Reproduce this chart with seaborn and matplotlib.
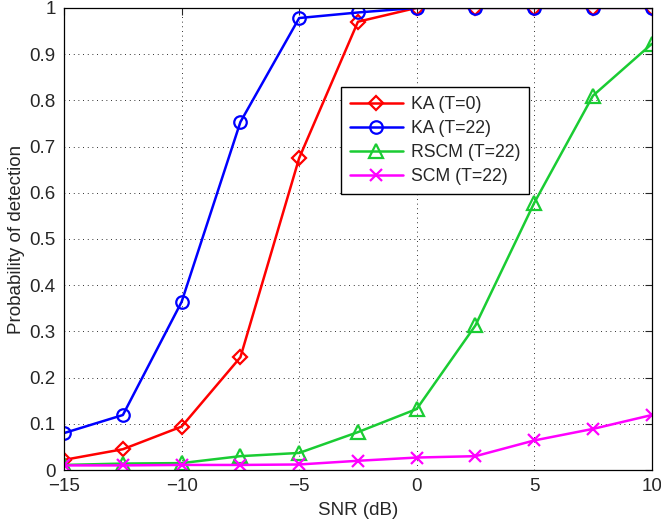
import matplotlib
matplotlib.use("Agg")
import matplotlib.pyplot as plt
import seaborn as sns
import pandas as pd

snr = [-15, -12.5, -10, -7.5, -5, -2.5, 0, 2.5, 5, 7.5, 10]
ka_t0 = [0.022, 0.045, 0.094, 0.244, 0.675, 0.970, 1.0, 1.0, 1.0, 1.0, 1.0]
ka_t22 = [0.080, 0.119, 0.364, 0.753, 0.978, 0.990, 1.0, 1.0, 1.0, 1.0, 1.0]
rscm_t22 = [0.011, 0.014, 0.015, 0.030, 0.037, 0.082, 0.132, 0.313, 0.578, 0.810, 0.922]
scm_t22 = [0.010, 0.010, 0.011, 0.011, 0.012, 0.020, 0.027, 0.030, 0.064, 0.089, 0.119]

series = [
    ("KA (T=0)", ka_t0, (1, 0, 0), "D", 7.5),
    ("KA (T=22)", ka_t22, (0, 0, 1), "o", 9),
    ("RSCM (T=22)", rscm_t22, (0.1, 0.8, 0.2), "^", 10),
    ("SCM (T=22)", scm_t22, (1, 0, 1), "x", 8),
]

sns.set_style("white")
plt.rcParams["font.family"] = ["Liberation Sans", "DejaVu Sans"]

fig = plt.figure(figsize=(6.61, 5.24), dpi=100)
ax = fig.add_axes([0.097, 0.103, 0.889, 0.882])

for name, vals, col, mk, ms in series:
    df = pd.DataFrame({"snr": snr, "pd": vals})
    sns.lineplot(data=df, x="snr", y="pd", ax=ax, color=col, label=name,
                 marker=mk, markersize=ms, linewidth=1.8)
for line in ax.lines:
    line.set_markerfacecolor("none")
    line.set_markeredgecolor(line.get_color())
    line.set_markeredgewidth(1.6)

ax.set_xlim(-15, 10)
ax.set_ylim(0, 1)
ax.set_xticks([-15, -10, -5, 0, 5, 10])
ax.set_xticklabels(["\u221215", "\u221210", "\u22125", "0", "5", "10"])
ax.set_yticks([i / 10 for i in range(11)])
ax.set_yticklabels(["0", "0.1", "0.2", "0.3", "0.4", "0.5", "0.6", "0.7", "0.8", "0.9", "1"])
ax.grid(True, linestyle=(0, (0.8, 4)), color="black", linewidth=0.7)
ax.tick_params(direction="in", top=True, right=True, labelsize=13.5, length=5, width=0.8)
ax.tick_params(axis="x", pad=6)
ax.tick_params(axis="y", pad=6)
for s in ax.spines.values():
    s.set_color("black")
    s.set_linewidth(0.9)
ax.set_xlabel("SNR (dB)", fontsize=13.5, labelpad=5)
ax.set_ylabel("Probability of detection", fontsize=13.5, labelpad=3)

leg = ax.legend(loc="upper left", bbox_to_anchor=(0.471, 0.829), borderaxespad=0,
                fontsize=12.7, frameon=True, fancybox=False, edgecolor="black",
                framealpha=1, handlelength=3.0, borderpad=0.5, labelspacing=0.4,
                handletextpad=0.45)
leg.get_frame().set_linewidth(1.0)

fig.savefig("out.png", dpi=100)
